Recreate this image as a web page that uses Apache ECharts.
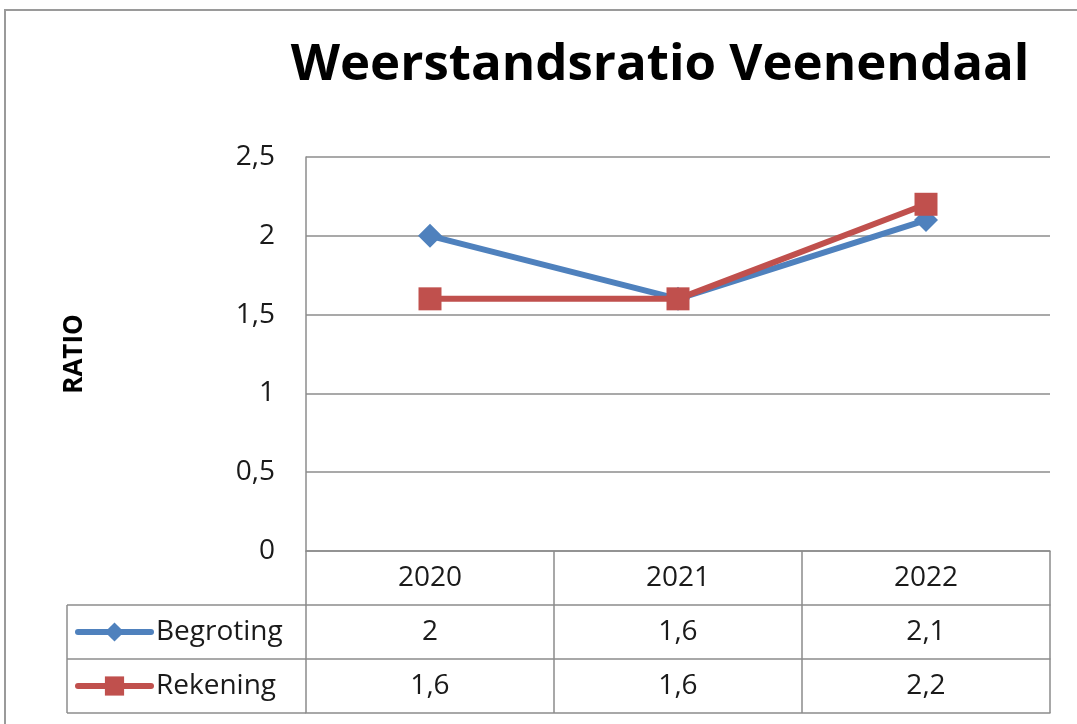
<!DOCTYPE html>
<html><head><meta charset="utf-8">
<script src="https://cdn.jsdelivr.net/npm/echarts@6/dist/echarts.min.js"></script>
<style>html,body{margin:0;padding:0;background:#fff}#c{width:1077px;height:724px}</style>
</head><body><div id="c"></div>
<script>
// ---- data ----
const categories = ['2020', '2021', '2022'];
const begroting = [2, 1.6, 2.1];
const rekening = [1.6, 1.6, 2.2];
const seriesNames = ['Begroting', 'Rekening'];
const titleText = 'Weerstandsratio Veenendaal';
const yAxisName = 'RATIO';
const yMin = 0, yMax = 2.5, yInterval = 0.5;

// ---- layout / style ----
const FONT = 'Open Sans';
const GRID = {left: 306, right: 27, top: 157, bottom: 173};
const ROW0 = 54, ROW = 54;
const LINE = '#8c8c8c';
const TXT = '#1a1a1a';
const fmt = v => String(v).replace('.', ',');

const chart = echarts.init(document.getElementById('c'), null, {renderer: 'canvas'});

function tableAxis(offset, tickLen, labelFn, margin) {
  return {
    type: 'category', data: categories, position: 'bottom', offset: offset,
    boundaryGap: true,
    axisLine: {show: true, lineStyle: {color: LINE, width: 1.5}},
    axisTick: {show: tickLen > 0, length: tickLen, inside: false, lineStyle: {color: LINE, width: 1.5}},
    axisLabel: labelFn ? {show: true, formatter: labelFn, fontSize: 28, fontFamily: FONT, color: TXT,
      margin: margin, verticalAlign: 'middle'} : {show: false},
    splitLine: {show: false}
  };
}

const H = 724;
const gridBottomY = H - GRID.bottom;
const tableLeft = 67;

chart.setOption({
  animation: false,
  backgroundColor: '#fff',
  title: {
    text: titleText, left: 655, top: 35, textAlign: 'center',
    textStyle: {fontFamily: FONT, fontWeight: 'bold', fontSize: 51, color: '#000'}
  },
  grid: {left: GRID.left, right: GRID.right, top: GRID.top, bottom: GRID.bottom, containLabel: false},
  legend: {
    data: seriesNames, orient: 'vertical', left: 75, top: gridBottomY + ROW0 + 12,
    itemWidth: 73, itemHeight: 24, itemGap: ROW - 30, padding: 0,
    lineStyle: {width: 6, cap: 'round'},
    textStyle: {fontFamily: FONT, fontSize: 28, color: TXT, lineHeight: 30}
  },
  xAxis: [
    tableAxis(0, ROW0, (v) => v, ROW0 / 2),
    tableAxis(ROW0, ROW, (v, i) => fmt(begroting[i]), ROW / 2),
    tableAxis(ROW0 + ROW, ROW, (v, i) => fmt(rekening[i]), ROW / 2),
    tableAxis(ROW0 + 2 * ROW, 0, null, 0)
  ],
  yAxis: {
    type: 'value', min: yMin, max: yMax, interval: yInterval,
    name: yAxisName, nameLocation: 'middle', nameRotate: 90, nameGap: 218,
    nameTextStyle: {fontFamily: FONT, fontWeight: 'bold', fontSize: 26, color: '#000'},
    axisLine: {show: true, lineStyle: {color: LINE, width: 1.5}},
    axisTick: {show: false},
    axisLabel: {formatter: fmt, fontSize: 28, fontFamily: FONT, color: TXT, margin: 31},
    splitLine: {show: true, lineStyle: {color: LINE, width: 1.5}}
  },
  graphic: [
    {type: 'rect', shape: {x: 5, y: 10, width: 1200, height: 900}, style: {fill: 'none', stroke: '#9a9a9a', lineWidth: 2}, silent: true},
    {type: 'line', shape: {x1: tableLeft, y1: gridBottomY + ROW0, x2: GRID.left, y2: gridBottomY + ROW0}, style: {stroke: LINE, lineWidth: 1.5}},
    {type: 'line', shape: {x1: tableLeft, y1: gridBottomY + ROW0 + ROW, x2: GRID.left, y2: gridBottomY + ROW0 + ROW}, style: {stroke: LINE, lineWidth: 1.5}},
    {type: 'line', shape: {x1: tableLeft, y1: gridBottomY + ROW0 + 2 * ROW, x2: GRID.left, y2: gridBottomY + ROW0 + 2 * ROW}, style: {stroke: LINE, lineWidth: 1.5}},
    {type: 'line', shape: {x1: tableLeft, y1: gridBottomY + ROW0, x2: tableLeft, y2: gridBottomY + ROW0 + 2 * ROW}, style: {stroke: LINE, lineWidth: 1.5}}
  ],
  series: [
    {name: seriesNames[0], type: 'line', data: begroting, xAxisIndex: 0,
      symbol: 'diamond', symbolSize: 24, showAllSymbol: true,
      lineStyle: {color: '#4F81BD', width: 6}, itemStyle: {color: '#4F81BD'}, z: 2},
    {name: seriesNames[1], type: 'line', data: rekening, xAxisIndex: 0,
      symbol: 'rect', symbolSize: 23, showAllSymbol: true,
      lineStyle: {color: '#C0504D', width: 6}, itemStyle: {color: '#C0504D'}, z: 3}
  ]
});
</script></body></html>
